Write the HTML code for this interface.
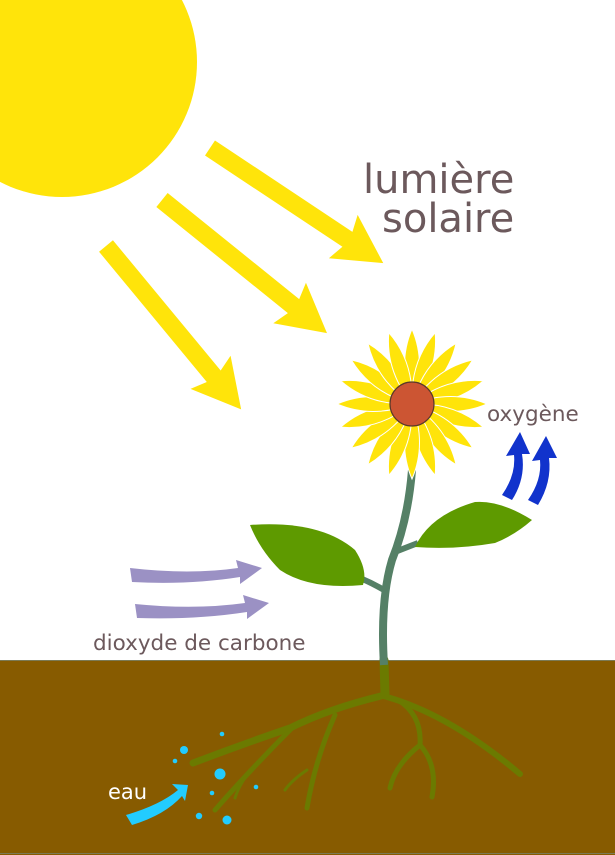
<!DOCTYPE html>
<html><head><meta charset="utf-8"><style>
html,body{margin:0;padding:0;background:#fff;}
svg{display:block;}
text{font-family:"DejaVu Sans","Liberation Sans",sans-serif;}
</style></head><body>
<svg width="615" height="855" viewBox="0 0 615 855" xmlns="http://www.w3.org/2000/svg">
<rect width="615" height="855" fill="#fff"/>
<circle cx="62" cy="62" r="135" fill="#ffe40a"/>
<g fill="#ffe40a">
 <polygon transform="translate(210,148) rotate(33.6)" points="0,-9 165,-9 160,-26 208,0 160,26 165,9 0,9"/>
 <polygon transform="translate(162,200) rotate(38.9)" points="0,-9 169,-9 164,-26 212,0 164,26 169,9 0,9"/>
 <polygon transform="translate(106,246) rotate(50.4)" points="0,-9 169,-9 164,-26 212,0 164,26 169,9 0,9"/>
</g>
<text x="363" y="193" font-size="40" fill="#6c595c">lumière</text>
<text x="382" y="232" font-size="40" fill="#6c595c">solaire</text>
<rect x="0" y="660" width="615" height="195" fill="#875b00"/>
<line x1="0" y1="660.5" x2="615" y2="660.5" stroke="#7b7a55" stroke-width="1"/>
<line x1="0" y1="853.5" x2="615" y2="853.5" stroke="#7b7a55" stroke-width="1"/>
<g fill="none" stroke="#6b7a00" stroke-linecap="round">
 <path d="M384,660 L385,695" stroke-width="9"/>
 <path d="M385,695 Q330,708 290,728 Q240,745 193,763" stroke-width="7"/>
 <path d="M292,728 Q250,770 215,810" stroke-width="5"/>
 <path d="M335,715 Q315,760 307,808" stroke-width="5"/>
 <path d="M387,697 Q450,715 520,774" stroke-width="6"/>
 <path d="M398,700 Q422,715 420,745 Q395,765 390,788" stroke-width="5"/>
 <path d="M420,745 Q438,765 432,797" stroke-width="5"/>
 <path d="M255,765 Q240,782 235,798" stroke-width="3"/>
 <path d="M307,770 Q292,780 285,790" stroke-width="3"/>
</g>
<path d="M412,470 Q408,520 392,560 Q380,600 384,665" fill="none" stroke="#558066" stroke-width="8"/>
<path d="M395,552 Q405,548 418,543" fill="none" stroke="#558066" stroke-width="6"/>
<path d="M384,590 Q372,583 360,578" fill="none" stroke="#558066" stroke-width="6"/>
<path d="M250,525 Q320,520 355,550 Q368,570 363,585 Q310,590 280,570 Q260,550 250,525 Z" fill="#5e9a00"/>
<path d="M415,547 Q430,515 475,502 Q500,500 532,520 Q515,535 495,543 Q455,550 415,547 Z" fill="#5e9a00"/>
<g fill="#ffe40a" stroke="#fff" stroke-width="1">
 <g transform="translate(412,404)">
  <path d="M0,0 Q15,-40 0,-75 Q-15,-40 0,0Z" transform="rotate(0)"/>
  <path d="M0,0 Q15,-40 0,-75 Q-15,-40 0,0Z" transform="rotate(18)"/>
  <path d="M0,0 Q15,-40 0,-75 Q-15,-40 0,0Z" transform="rotate(36)"/>
  <path d="M0,0 Q15,-40 0,-75 Q-15,-40 0,0Z" transform="rotate(54)"/>
  <path d="M0,0 Q15,-40 0,-75 Q-15,-40 0,0Z" transform="rotate(72)"/>
  <path d="M0,0 Q15,-40 0,-75 Q-15,-40 0,0Z" transform="rotate(90)"/>
  <path d="M0,0 Q15,-40 0,-75 Q-15,-40 0,0Z" transform="rotate(108)"/>
  <path d="M0,0 Q15,-40 0,-75 Q-15,-40 0,0Z" transform="rotate(126)"/>
  <path d="M0,0 Q15,-40 0,-75 Q-15,-40 0,0Z" transform="rotate(144)"/>
  <path d="M0,0 Q15,-40 0,-75 Q-15,-40 0,0Z" transform="rotate(162)"/>
  <path d="M0,0 Q15,-40 0,-75 Q-15,-40 0,0Z" transform="rotate(180)"/>
  <path d="M0,0 Q15,-40 0,-75 Q-15,-40 0,0Z" transform="rotate(198)"/>
  <path d="M0,0 Q15,-40 0,-75 Q-15,-40 0,0Z" transform="rotate(216)"/>
  <path d="M0,0 Q15,-40 0,-75 Q-15,-40 0,0Z" transform="rotate(234)"/>
  <path d="M0,0 Q15,-40 0,-75 Q-15,-40 0,0Z" transform="rotate(252)"/>
  <path d="M0,0 Q15,-40 0,-75 Q-15,-40 0,0Z" transform="rotate(270)"/>
  <path d="M0,0 Q15,-40 0,-75 Q-15,-40 0,0Z" transform="rotate(288)"/>
  <path d="M0,0 Q15,-40 0,-75 Q-15,-40 0,0Z" transform="rotate(306)"/>
  <path d="M0,0 Q15,-40 0,-75 Q-15,-40 0,0Z" transform="rotate(324)"/>
  <path d="M0,0 Q15,-40 0,-75 Q-15,-40 0,0Z" transform="rotate(342)"/>
 </g>
</g>
<circle cx="412" cy="404" r="22" fill="#cc5533" stroke="#5a3a2a" stroke-width="1.2"/>
<text x="487" y="421" font-size="21.5" fill="#6c595c">oxygène</text>
<g fill="#1133cc">
 <path d="M502,495 Q516,475 514,455 L506,456 L520,432 L530,454 L522,454 Q526,478 512,500 Z"/>
 <path d="M528,500 Q542,480 540,460 L532,461 L546,436 L557,458 L549,458 Q552,482 538,505 Z"/>
</g>
<g fill="#9b91c4">
 <path d="M130,568 Q190,575 238,568 L236,560 L262,568 L240,584 L240,577 Q190,585 132,582 Z"/>
 <path d="M135,604 Q195,610 245,603 L243,595 L269,603 L247,619 L247,612 Q195,620 137,618 Z"/>
</g>
<text x="93" y="650" font-size="21.5" fill="#6c595c">dioxyde de carbone</text>
<text x="108" y="799" font-size="21" fill="#fff">eau</text>
<path d="M126,815 Q160,805 178,790 L172,784 L188,785 L185,801 L182,796 Q165,815 132,825 Z" fill="#22ccff"/>
<g fill="#22ccff">
 <circle cx="184" cy="750" r="4"/><circle cx="175" cy="761" r="2.3"/>
 <circle cx="222" cy="734" r="2.3"/><circle cx="220" cy="774" r="5.5"/>
 <circle cx="212" cy="793" r="2.3"/><circle cx="256" cy="787" r="2.3"/>
 <circle cx="199" cy="816" r="3.2"/><circle cx="227" cy="820" r="4.5"/>
</g>
</svg>
</body></html>
